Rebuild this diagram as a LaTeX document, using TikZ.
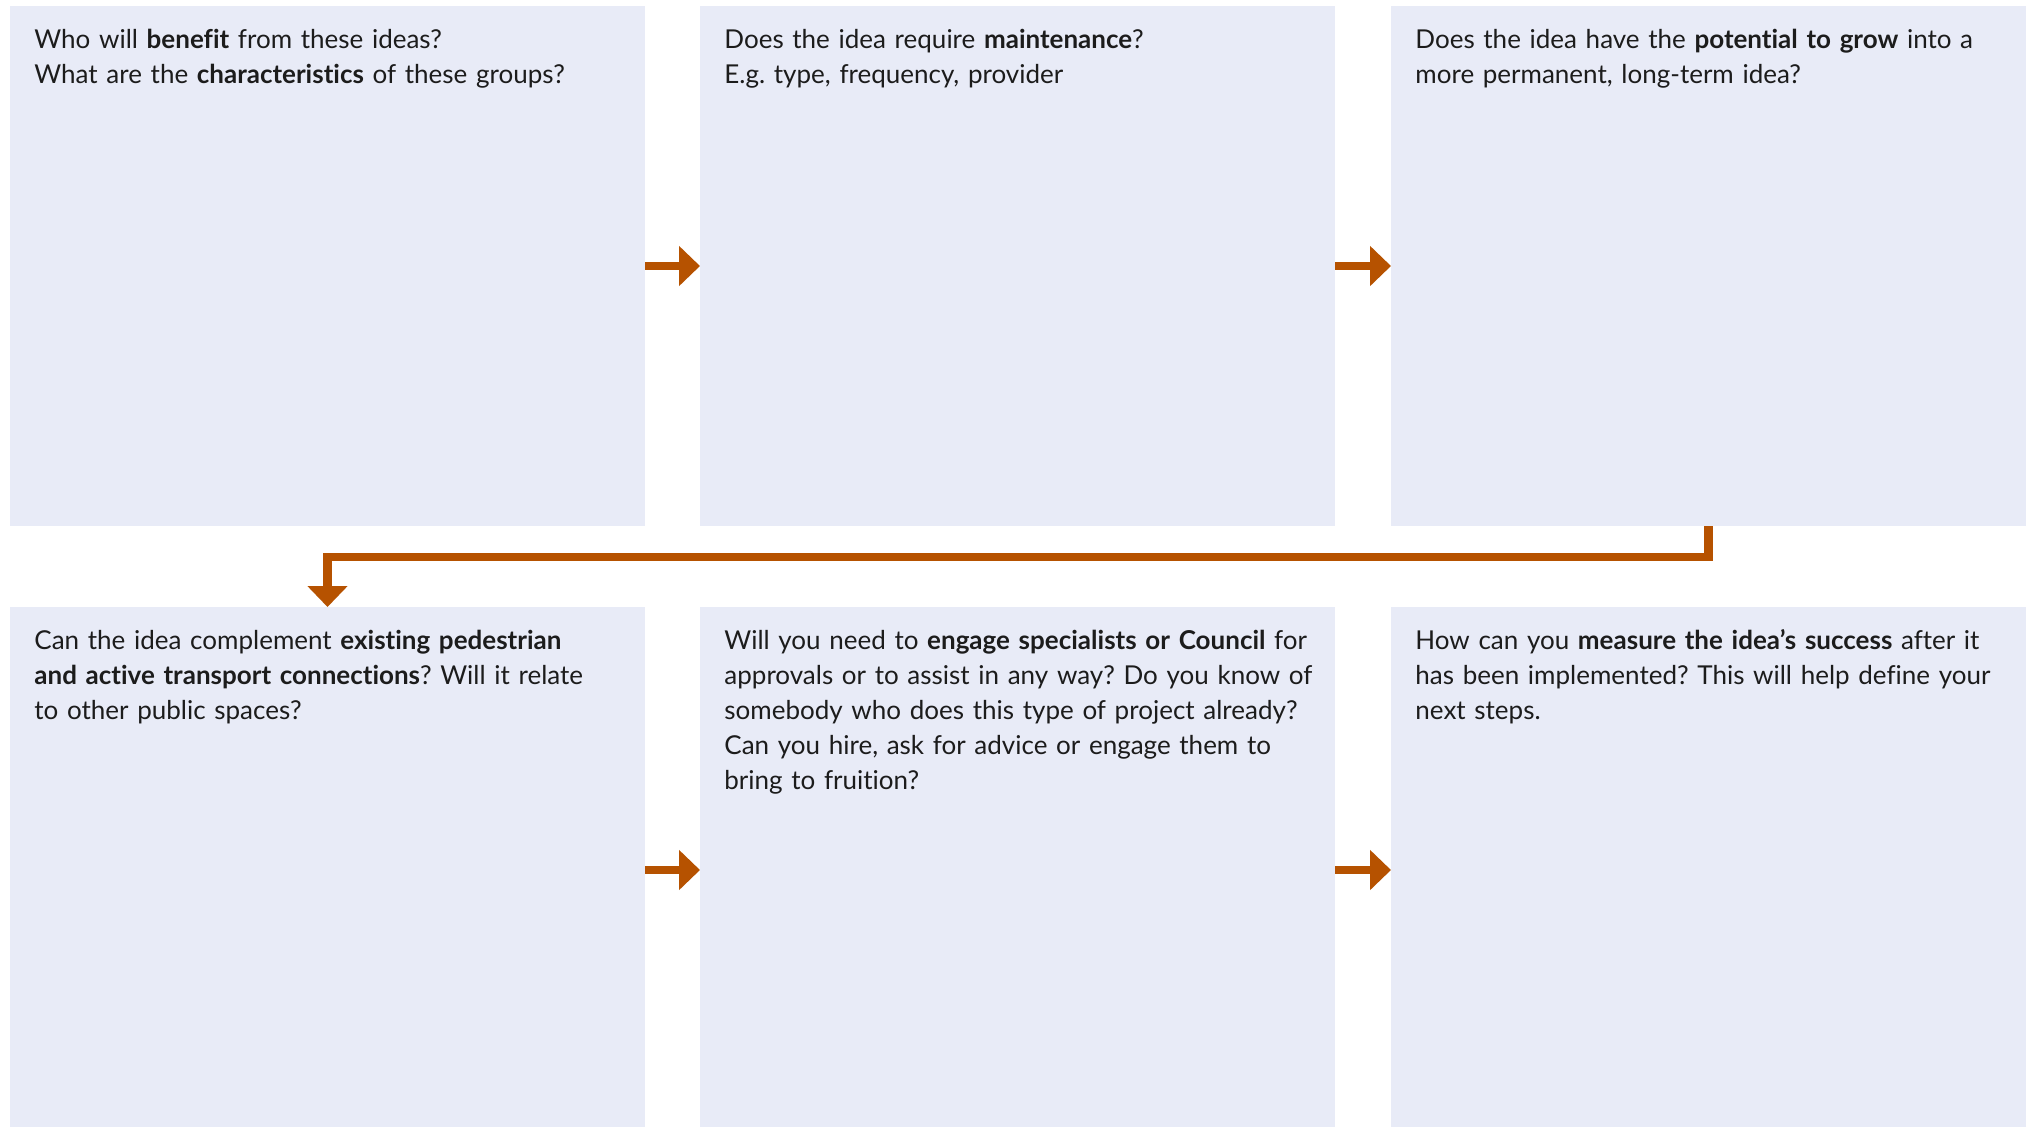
\documentclass[tikz,border=0pt]{standalone}
\usepackage{fontspec}
\setmainfont{Lato}[Ligatures=NoCommon]
\usetikzlibrary{arrows.meta}
\definecolor{boxfill}{RGB}{232,235,247}
\definecolor{arrowc}{RGB}{182,82,0}
\definecolor{txt}{RGB}{28,28,28}
\frenchspacing
\begin{document}
\begin{tikzpicture}[x=0.5pt,y=-0.5pt,
  panel/.style={fill=boxfill, draw=none, minimum width=317.5pt, minimum height=260pt, inner sep=0pt, outer sep=0pt, anchor=north west},
  lowpanel/.style={panel, minimum height=263pt},
  qtext/.style={anchor=base west, inner sep=0pt, text width=320pt, align=left, text=txt, font=\fontsize{13}{17.5}\selectfont},
  flow/.style={draw=arrowc, line width=4.25pt, line join=miter, -{Triangle[length=10.5pt,width=19.5pt]}}
]
\clip (0,0) rectangle (2033,1126);
\fill[white] (0,0) rectangle (2033,1126);
% panels
\node[panel] (b1) at (10,6) {};
\node[panel] (b2) at (700,6) {};
\node[panel] (b3) at (1391,6) {};
\node[lowpanel] (b4) at (10,607) {};
\node[lowpanel] (b5) at (700,607) {};
\node[lowpanel] (b6) at (1391,607) {};
% texts
\node[qtext] (t1) at ([shift={(24,42)}]b1.north west) {Who will \textbf{benefit} from these ideas?\\What are the \textbf{characteristics} of these groups?};
\node[qtext] (t2) at ([shift={(24,42)}]b2.north west) {Does the idea require \textbf{maintenance}?\\E.g. type, frequency, provider};
\node[qtext] (t3) at ([shift={(24,42)}]b3.north west) {Does the idea have the \textbf{potential to grow} into a\\more permanent, long-term idea?};
\node[qtext] (t4) at ([shift={(24,42.5)}]b4.north west) {Can the idea complement \textbf{existing pedestrian}\\\textbf{and active transport connections}? Will it relate\\to other public spaces?};
\node[qtext] (t5) at ([shift={(24,42.5)}]b5.north west) {Will you need to \textbf{engage specialists or Council} for\\approvals or to assist in any way? Do you know of\\somebody who does this type of project already?\\Can you hire, ask for advice or engage them to\\bring to fruition?};
\node[qtext] (t6) at ([shift={(24,42.5)}]b6.north west) {How can you \textbf{measure the idea’s success} after it\\has been implemented? This will help define your\\next steps.};
% connectors
\draw[flow] (b1.east) -- (b2.west);
\draw[flow] (b2.east) -- (b3.west);
\draw[flow] (b4.east) -- (b5.west);
\draw[flow] (b5.east) -- (b6.west);
\draw[flow] (b3.south) -- ++(0,31) -| (b4.north);
\end{tikzpicture}
\end{document}
